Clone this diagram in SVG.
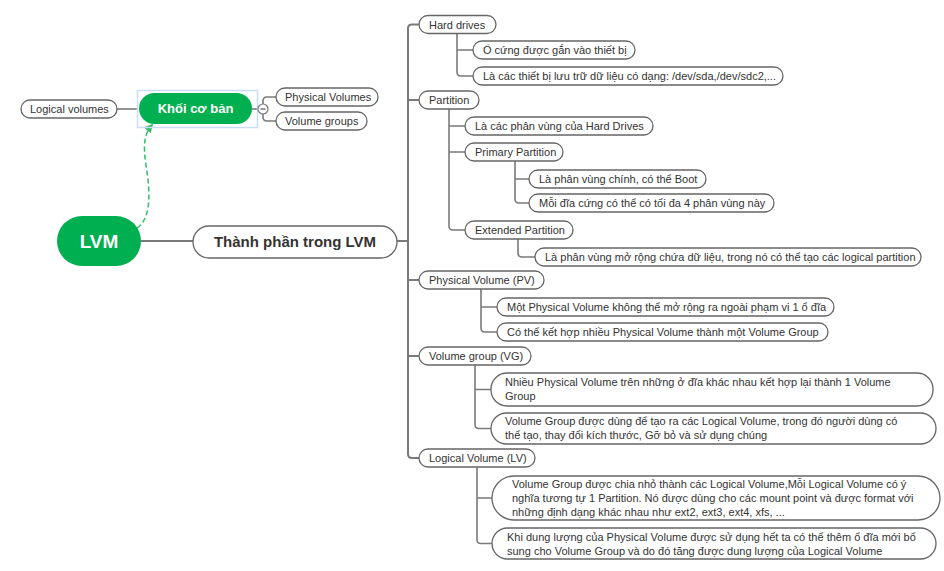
<svg xmlns="http://www.w3.org/2000/svg" width="944" height="571" viewBox="0 0 944 571">
<defs>
<style>
.n{fill:#fff;stroke:#666;stroke-width:1.3}
.t{font-family:"Liberation Sans",Arial,sans-serif;font-size:11px;fill:#333}
.c{fill:none;stroke:#7a7a7a;stroke-width:1.6}
.tr{fill:none;stroke:#7a7a7a;stroke-width:2}
.g{fill:#00b050}
.gt{font-family:"Liberation Sans",Arial,sans-serif;font-weight:bold;fill:#fff}
</style>
<marker id="ah" viewBox="0 0 10 10" refX="8" refY="5" markerWidth="9" markerHeight="9" orient="auto" markerUnits="userSpaceOnUse">
<path d="M0,0 L10,5 L0,10 z" fill="#33bb66"/>
</marker>
</defs>
<rect width="944" height="571" fill="#fff"/>

<g id="connectors">
<path class="tr" d="M141,241 H193"/>
<path class="c" d="M117,109 H138"/>
<path class="c" d="M252,109 H258"/>
<path class="c" d="M263,104 V101 Q263,97 267,97 H276"/>
<path class="c" d="M263,114 V117 Q263,121 267,121 H276"/>
<path class="tr" d="M397,241 H408"/>
<path class="tr" d="M419,24.5 H412 Q408,24.5 408,28.5 V454 Q408,458 412,458 H419"/>
<path class="tr" d="M408,100 H419 M408,280 H419 M408,356 H419"/>
<path class="c" d="M457,33.5 V72 Q457,76 461,76 H473 M457,50 H473"/>
<path class="c" d="M449,109 V226 Q449,230 453,230 H465 M449,126 H465 M449,152 H465"/>
<path class="c" d="M515,161 V199 Q515,203 519,203 H529 M515,179 H529"/>
<path class="c" d="M518,239 V253 Q518,257 522,257 H535"/>
<path class="c" d="M481,289 V328 Q481,332 485,332 H497 M481,307 H497"/>
<path class="c" d="M475,365 V424.5 Q475,428.5 479,428.5 H491 M475,389.5 H491"/>
<path class="c" d="M477,467 V539.5 Q477,543.5 481,543.5 H492 M477,498 H492"/>
<path d="M137,228 C152,218 150,190 146,165 C143,145 144,134 152,125" fill="none" stroke="#33bb66" stroke-width="1.5" stroke-dasharray="5,3" marker-end="url(#ah)"/>
</g>

<g id="lvm">
<rect class="g" x="57" y="216" width="84" height="50" rx="25"/>
<text class="gt" x="99" y="248" font-size="19" text-anchor="middle">LVM</text>
</g>

<g id="khoi-co-ban">
<rect x="137.5" y="90.5" width="120" height="37" fill="none" stroke="#c9ddf5" stroke-width="1.5"/>
<rect class="g" x="139" y="93" width="113" height="31" rx="15.5"/>
<text class="gt" x="195.5" y="113" font-size="13" text-anchor="middle">Khối cơ bản</text>
<circle cx="263" cy="109" r="5" fill="#fff" stroke="#777" stroke-width="1.2"/>
<path d="M260.5,109 H265.5" stroke="#555" stroke-width="1.2"/>
</g>

<g id="logical-volumes">
<rect class="n" x="21" y="100" width="96" height="18" rx="9"/>
<text class="t" x="30" y="113">Logical volumes</text>
</g>
<g id="physical-volumes">
<rect class="n" x="276" y="88" width="102" height="18" rx="9"/>
<text class="t" x="285" y="101">Physical Volumes</text>
</g>
<g id="volume-groups">
<rect class="n" x="276" y="112" width="91" height="18" rx="9"/>
<text class="t" x="285" y="125">Volume groups</text>
</g>

<g id="thanh-phan">
<rect class="n" x="193" y="226" width="204" height="32" rx="16"/>
<text x="295" y="247" text-anchor="middle" font-family="Liberation Sans,Arial,sans-serif" font-size="15" font-weight="bold" fill="#333">Thành phần trong LVM</text>
</g>

<g id="hard-drives">
<rect class="n" x="419" y="15.5" width="77" height="18" rx="9"/>
<text class="t" x="429" y="28.5">Hard drives</text>
</g>
<g id="hd-1">
<rect class="n" x="473" y="41" width="162" height="18" rx="9"/>
<text class="t" x="483" y="54">Ổ cứng được gắn vào thiết bị</text>
</g>
<g id="hd-2">
<rect class="n" x="473" y="67" width="310" height="18" rx="9"/>
<text class="t" x="483" y="80">Là các thiết bị lưu trữ dữ liệu có dạng: /dev/sda,/dev/sdc2,...</text>
</g>

<g id="partition">
<rect class="n" x="419" y="91" width="60" height="18" rx="9"/>
<text class="t" x="429" y="104">Partition</text>
</g>
<g id="p-1">
<rect class="n" x="465" y="117" width="188" height="18" rx="9"/>
<text class="t" x="475" y="130">Là các phân vùng của Hard Drives</text>
</g>
<g id="primary">
<rect class="n" x="465" y="143" width="98" height="18" rx="9"/>
<text class="t" x="475" y="156">Primary Partition</text>
</g>
<g id="primary-1">
<rect class="n" x="529" y="170" width="177" height="18" rx="9"/>
<text class="t" x="539" y="183">Là phân vùng chính, có thể Boot</text>
</g>
<g id="primary-2">
<rect class="n" x="529" y="194" width="245" height="18" rx="9"/>
<text class="t" x="539" y="207">Mỗi đĩa cứng có thể có tối đa 4 phân vùng này</text>
</g>
<g id="extended">
<rect class="n" x="465" y="221" width="108" height="18" rx="9"/>
<text class="t" x="475" y="234">Extended Partition</text>
</g>
<g id="extended-1">
<rect class="n" x="535" y="248" width="386" height="18" rx="9"/>
<text class="t" x="545" y="261">Là phân vùng mở rộng chứa dữ liệu, trong nó có thể tạo các logical partition</text>
</g>

<g id="pv">
<rect class="n" x="419" y="271" width="125" height="18" rx="9"/>
<text class="t" x="429" y="284">Physical Volume (PV)</text>
</g>
<g id="pv-1">
<rect class="n" x="497" y="298" width="337" height="18" rx="9"/>
<text class="t" x="507" y="311">Một Physical Volume không thể mở rộng ra ngoài phạm vi 1 ổ đĩa</text>
</g>
<g id="pv-2">
<rect class="n" x="497" y="323" width="331" height="18" rx="9"/>
<text class="t" x="507" y="336">Có thể kết hợp nhiều Physical Volume thành một Volume Group</text>
</g>

<g id="vg">
<rect class="n" x="419" y="347" width="112" height="18" rx="9"/>
<text class="t" x="429" y="360">Volume group (VG)</text>
</g>
<g id="vg-1">
<rect class="n" x="491" y="373" width="442" height="33" rx="16"/>
<text class="t" x="505" y="386">Nhiều Physical Volume trên những ở đĩa khác nhau kết hợp lại thành 1 Volume</text>
<text class="t" x="505" y="400">Group</text>
</g>
<g id="vg-2">
<rect class="n" x="491" y="413" width="445" height="31" rx="15.5"/>
<text class="t" x="505" y="425">Volume Group được dùng để tạo ra các Logical Volume, trong đó người dùng có</text>
<text class="t" x="505" y="439">thể tạo, thay đổi kích thước, Gỡ bỏ và sử dụng chúng</text>
</g>

<g id="lv">
<rect class="n" x="419" y="449" width="116" height="18" rx="9"/>
<text class="t" x="429" y="462">Logical Volume (LV)</text>
</g>
<g id="lv-1">
<rect class="n" x="492" y="476" width="448" height="44" rx="22"/>
<text class="t" x="512" y="488">Volume Group được chia nhỏ thành các Logical Volume,Mỗi Logical Volume có ý</text>
<text class="t" x="512" y="502">nghĩa tương tự 1 Partition. Nó được dùng cho các mount point và được format với</text>
<text class="t" x="512" y="516">những định dạng khác nhau như ext2, ext3, ext4, xfs, ...</text>
</g>
<g id="lv-2">
<rect class="n" x="492" y="528" width="444" height="31" rx="15.5"/>
<text class="t" x="507" y="541">Khi dung lượng của Physical Volume được sử dụng hết ta có thể thêm ổ đĩa mới bổ</text>
<text class="t" x="507" y="555">sung cho Volume Group và do đó tăng được dung lượng của Logical Volume</text>
</g>
</svg>
